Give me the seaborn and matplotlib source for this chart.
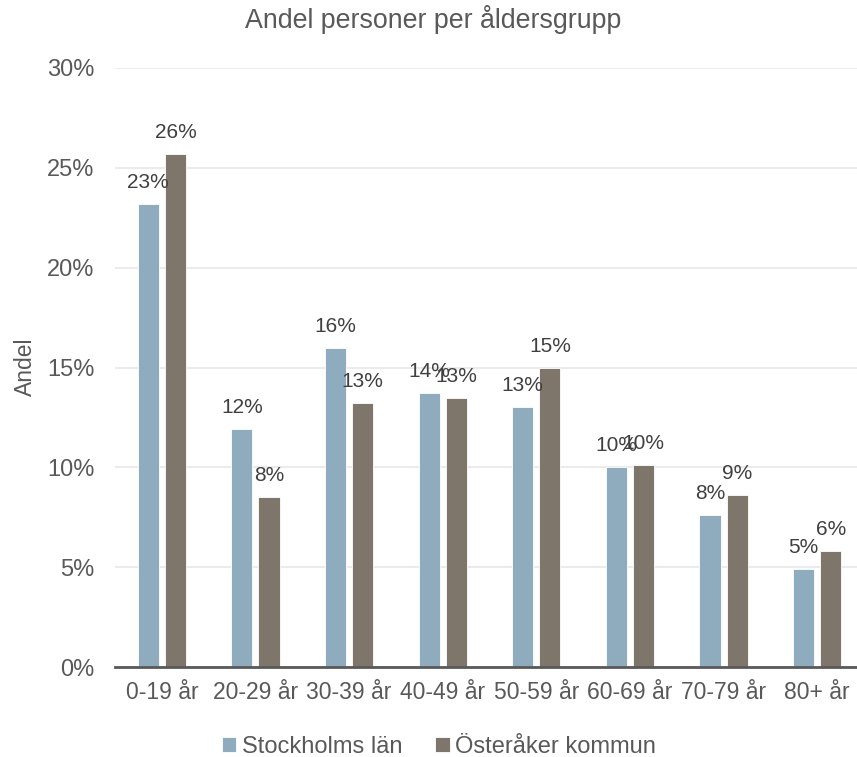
import matplotlib
matplotlib.use("Agg")
import matplotlib.pyplot as plt
from matplotlib.ticker import PercentFormatter
import pandas as pd
import seaborn as sns

# ──────────────────────────────────────────────
# DATA
# ──────────────────────────────────────────────
aldersgrupper = ["0-19 år", "20-29 år", "30-39 år", "40-49 år",
                 "50-59 år", "60-69 år", "70-79 år", "80+ år"]
stockholms_lan = [23.2, 11.9, 16.0, 13.7, 13.0, 10.0, 7.6, 4.9]
osteraker = [25.7, 8.5, 13.2, 13.45, 15.0, 10.1, 8.6, 5.8]
serier = ["Stockholms län", "Österåker kommun"]
y_ticks = [0, 5, 10, 15, 20, 25, 30]

FARGER = {
    "Stockholms län":   "#8FACBE",
    "Österåker kommun": "#7E756B",
}
TEXT = "#595959"

df = pd.DataFrame({
    "Åldersgrupp": aldersgrupper * 2,
    "Andel": stockholms_lan + osteraker,
    "Område": [serier[0]] * len(aldersgrupper) + [serier[1]] * len(aldersgrupper),
})

# ──────────────────────────────────────────────
# STIL
# ──────────────────────────────────────────────
sns.set_theme(style="white")
plt.rcParams["font.family"] = ["Liberation Sans", "DejaVu Sans"]

fig = plt.figure(figsize=(8.57, 7.57), dpi=100)
ax = fig.add_axes([115 / 857, 1 - 667 / 757, 749 / 857, 599 / 757])

sns.barplot(data=df, x="Åldersgrupp", y="Andel", hue="Område",
            order=aldersgrupper, hue_order=serier, palette=FARGER,
            saturation=1, width=0.58, gap=0.22, edgecolor="white",
            linewidth=0.6, ax=ax, zorder=3)

# Etiketter ovanför staplarna
for cont in ax.containers:
    for bar in cont:
        h = bar.get_height()
        ax.annotate(f"{h:.0f}%", (bar.get_x() + bar.get_width() / 2, h),
                    xytext=(0, 11.5), textcoords="offset points",
                    ha="center", va="baseline", fontsize=15, color="#404040",
                    zorder=5)

ax.set_ylim(0, 30)
ax.set_yticks(y_ticks)
ax.yaxis.set_major_formatter(PercentFormatter(decimals=0))
ax.grid(axis="y", color="#EBEBEB", lw=1.5, zorder=0)
ax.set_axisbelow(True)

for side in ["top", "right", "left"]:
    ax.spines[side].set_visible(False)
ax.spines["bottom"].set_color("#595959")
ax.spines["bottom"].set_linewidth(2)
ax.spines["bottom"].set_zorder(4)

ax.tick_params(axis="x", length=0, pad=10, labelsize=16.5, labelcolor=TEXT)
ax.tick_params(axis="y", length=0, pad=15, labelsize=17, labelcolor=TEXT)
ax.set_xlabel("")
ax.set_ylabel("")
fig.text(25 / 857, 1 - 367 / 757, "Andel", rotation=90, ha="center",
         va="center", fontsize=16.5, color=TEXT)

fig.text(433 / 857, 1 - 20 / 757, "Andel personer per åldersgrupp",
         ha="center", va="center", fontsize=19.3, color=TEXT)

handles, labels = ax.get_legend_handles_labels()
ax.get_legend().remove()
fig.legend(handles, labels, loc="center", bbox_to_anchor=(439 / 857, 1 - 747 / 757),
           ncol=2, frameon=False, fontsize=17, labelcolor=TEXT,
           handlelength=0.6, handleheight=0.6, handletextpad=0.25,
           columnspacing=1.4)

fig.savefig("out.png", dpi=100)
